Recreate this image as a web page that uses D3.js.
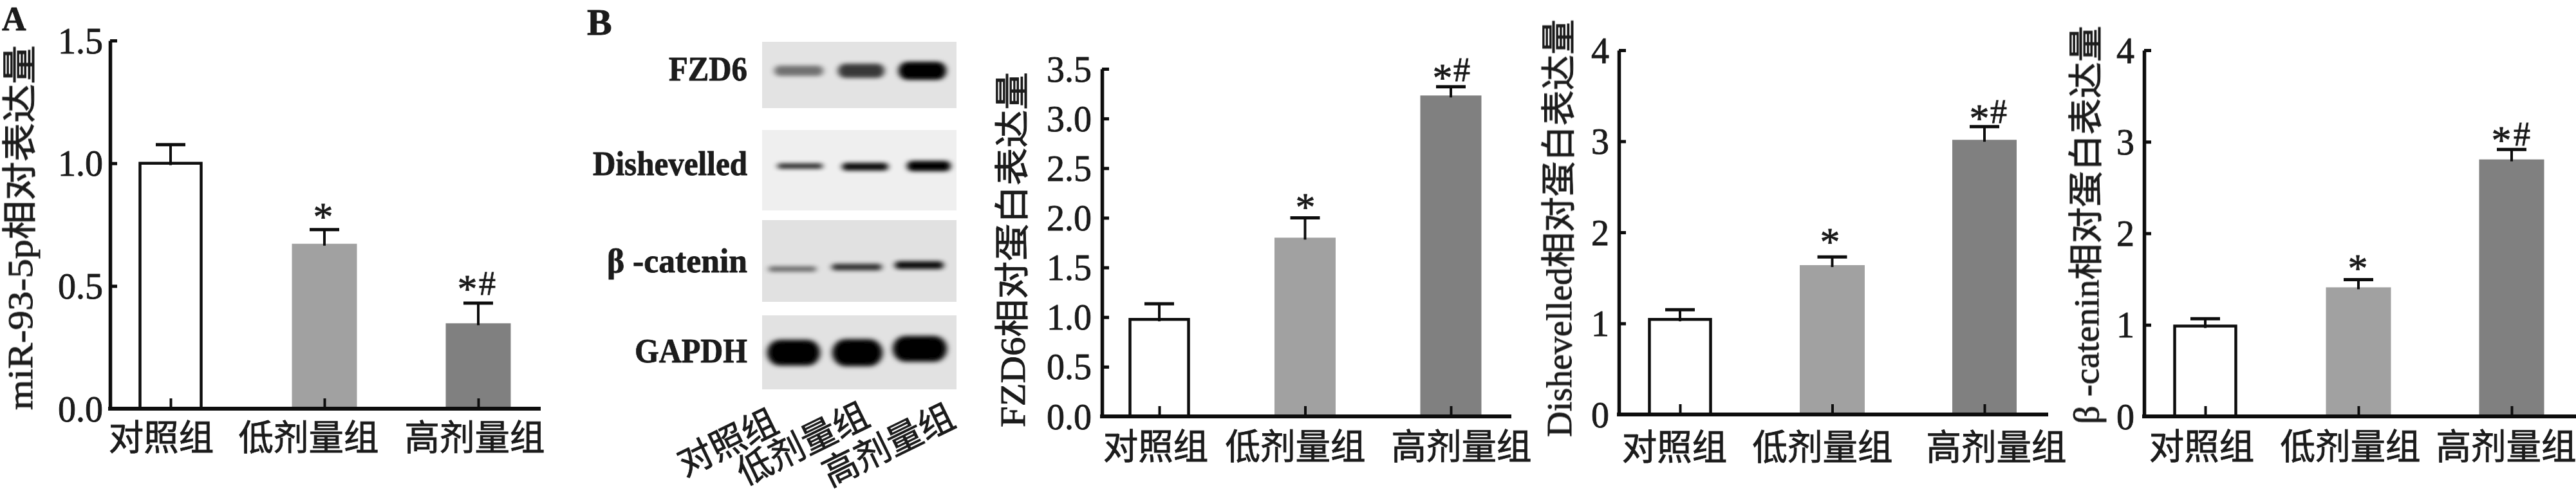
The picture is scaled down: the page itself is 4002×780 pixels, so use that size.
<!DOCTYPE html>
<html><head><meta charset="utf-8">
<style>
html,body{margin:0;padding:0;background:#fff;width:4002px;height:780px;overflow:hidden}
text{font-family:"Liberation Serif","Noto Sans CJK SC",serif;fill:#1a1a1a;stroke:#1a1a1a;stroke-width:0.8px}
</style>
<script src="https://cdn.jsdelivr.net/npm/d3@7/dist/d3.min.js"></script>
</head><body>
<svg id="c" width="4002" height="780"></svg>
<script>
const categories = ["对照组","低剂量组","高剂量组"];
const barColors = ["#ffffff","#a1a1a1","#808080"];

const mirValues = [1.0,0.672,0.348];
const mirUpper  = [1.076,0.73,0.43];
const mirTicks  = [0,0.5,1.0,1.5];

const fzdValues = [0.977,1.8,3.232];
const fzdUpper  = [1.135,2.0,3.32];
const fzdTicks  = [0,0.5,1,1.5,2,2.5,3,3.5];

const dvlValues = [1.044,1.64,3.016];
const dvlUpper  = [1.15,1.73,3.16];
const dvlTicks  = [0,1,2,3,4];

const catValues = [0.987,1.41,2.807];
const catUpper  = [1.067,1.494,2.915];
const catTicks  = [0,1,2,3,4];

const blotLabels = ["FZD6","Dishevelled","β -catenin","GAPDH"];
const blotDark = [[0.5,0.75,1],[0.85,0.95,1],[0.55,0.8,0.95],[1,1,1]];

const panels = [
 {title:"miR-93-5p相对表达量",values:mirValues,upper:mirUpper,ticks:mirTicks,fmt:".1f",
  ax:171,top:63,base:635,end:840,x0:265,x1:743,bw:[95,101,101],lx:[250,479,737],ly:679,
  tr:160,tx:32,t0:70,t1:637,
  mk:[null,[[502,328,"*"]],[[726,440,"*"],[757,440,"#"]]]},
 {title:"FZD6相对蛋白表达量",values:fzdValues,upper:fzdUpper,ticks:fzdTicks,fmt:".1f",
  ax:1712,top:107,base:647,end:2348,x0:1801,x1:2254,bw:[91,95,95],lx:[1795,2012,2270],ly:693,
  tr:1696,tx:1574,t0:112,t1:664,
  mk:[null,[[2028,313,"*"]],[[2241,112,"*"],[2271,108,"#"]]]},
 {title:"Dishevelled相对蛋白表达量",values:dvlValues,upper:dvlUpper,ticks:dvlTicks,fmt:"d",
  ax:2515,top:78,base:644,end:3182,x0:2610,x1:3083,bw:[95,101,100],lx:[2601,2831,3101],ly:694,
  tr:2500,tx:2423,t0:30,t1:679,
  mk:[null,[[2843,367,"*"]],[[3075,175,"*"],[3105,173,"#"]]]},
 {title:"β -catenin相对蛋白表达量",values:catValues,upper:catUpper,ticks:catTicks,fmt:"d",
  ax:3331,top:78,base:647,end:4002,x0:3426,x1:3902,bw:[95,101,101],lx:[3420,3651,3893],ly:693,
  tr:3316,tx:3242,t0:40,t1:659,
  mk:[null,[[3663,408,"*"]],[[3886,209,"*"],[3918,208,"#"]]]}
];

const svg = d3.select("#c");
const defs = svg.append("defs");
defs.append("filter").attr("id","soft").attr("filterUnits","userSpaceOnUse")
  .attr("x",0).attr("y",0).attr("width",4002).attr("height",780)
  .append("feGaussianBlur").attr("stdDeviation","0.7");
defs.append("filter").attr("id","b6").attr("x","-30%").attr("y","-100%").attr("width","160%").attr("height","300%")
  .append("feGaussianBlur").attr("stdDeviation","5 3.5");
defs.append("filter").attr("id","b3").attr("x","-30%").attr("y","-150%").attr("width","160%").attr("height","400%")
  .append("feGaussianBlur").attr("stdDeviation","5 3");
const root = svg.append("g").attr("filter","url(#soft)");

panels.forEach(p=>{
  const g = root.append("g");
  const y = d3.scaleLinear().domain([0,d3.max(p.ticks)]).range([p.base,p.top]);
  const x = d3.scalePoint().domain(categories).range([p.x0,p.x1]);
  g.selectAll("rect.bar").data(categories).join("rect").attr("class","bar")
    .attr("x",(d,i)=>x(d)-p.bw[i]/2).attr("width",(d,i)=>p.bw[i])
    .attr("y",(d,i)=>y(p.values[i])).attr("height",(d,i)=>p.base-y(p.values[i]))
    .attr("fill",(d,i)=>barColors[i])
    .attr("stroke",(d,i)=>i==0?"#111":"none").attr("stroke-width",4.5);
  const eb = g.selectAll("g.eb").data(categories).join("g").attr("class","eb");
  eb.append("line").attr("x1",d=>x(d)).attr("x2",d=>x(d))
    .attr("y1",(d,i)=>y(p.values[i])+3).attr("y2",(d,i)=>y(p.upper[i]))
    .attr("stroke","#111").attr("stroke-width",4);
  eb.append("line").attr("x1",d=>x(d)-23).attr("x2",d=>x(d)+23)
    .attr("y1",(d,i)=>y(p.upper[i])).attr("y2",(d,i)=>y(p.upper[i]))
    .attr("stroke","#111").attr("stroke-width",5);
  const ax = g.append("g").attr("transform",`translate(${p.ax},0)`)
    .call(d3.axisLeft(y).tickValues(p.ticks).tickFormat(d3.format(p.fmt)).tickSizeInner(-11).tickSizeOuter(0));
  ax.select(".domain").attr("stroke","#111").attr("stroke-width",5.5);
  ax.selectAll(".tick line").attr("stroke","#111").attr("stroke-width",5);
  ax.selectAll(".tick text").attr("x",p.tr-p.ax).attr("dy","0.34em")
    .style("font-size","56px").style("font-family",'"Liberation Serif"');
  const bx = g.append("g").attr("transform",`translate(0,${p.base})`)
    .call(d3.axisBottom(x).tickSizeInner(-16).tickSizeOuter(0));
  bx.select(".domain").remove();
  g.append("line").attr("x1",p.ax-3).attr("x2",p.end).attr("y1",p.base).attr("y2",p.base)
    .attr("stroke","#111").attr("stroke-width",6);
  bx.selectAll(".tick line").attr("stroke","#111").attr("stroke-width",4);
  bx.selectAll(".tick text").attr("y",0).attr("dy",0)
    .attr("transform",(d,i)=>`translate(${p.lx[i]-x(d)},${p.ly-p.base+20})`)
    .style("font-size","54.5px").style("font-family",'"Noto Sans CJK SC"');
  g.append("text").attr("transform",`translate(${p.tx+18},${(p.t0+p.t1)/2}) rotate(-90)`)
    .attr("text-anchor","middle").attr("textLength",p.t1-p.t0).attr("lengthAdjust","spacingAndGlyphs")
    .style("font-size","54px").text(p.title);
  p.mk.forEach(m=>{ if(!m) return;
    m.forEach(([mx,my,s])=>g.append("text").attr("x",mx).attr("y",my+(s=="*"?29:18))
      .attr("text-anchor","middle").style("font-size",s=="*"?"62px":"52px")
      .style("font-family",'"Liberation Serif"').text(s));
  });
});

root.append("text").attr("x",3).attr("y",47).style("font-size","52px").style("font-weight","bold").text("A");
root.append("text").attr("x",912).attr("y",54).style("font-size","58px").style("font-weight","bold").text("B");

const blotBoxes=[[65,168,"#e3e3e3"],[202,327,"#efefef"],[342,469,"#e1e1e1"],[490,605,"#e2e2e2"]];
const labelYs=[107,254,405,545], labelW=[122,240,218,175];
const bandCx=[[1241,1338,1433],[1243,1344,1443],[1231,1331,1428],[1233,1332,1429]];
const bandCy=[[110,110,110],[258,259,258],[418,415,412],[548,548,542]];
const bandW=[[76,72,74],[70,72,68],[74,78,76],[82,78,84]];
const bandH=[[16,22,28],[8,12,16],[8,10,12],[40,42,40]];
const blot=root.append("g");
blot.selectAll("rect.box").data(blotBoxes).join("rect").attr("class","box")
 .attr("x",1184).attr("width",302).attr("y",d=>d[0]).attr("height",d=>d[1]-d[0]).attr("fill",d=>d[2]);
blotDark.forEach((row,r)=>{
  blot.selectAll("rect.band"+r).data(row).join("rect").attr("class","band"+r)
   .attr("x",(d,i)=>bandCx[r][i]-bandW[r][i]/2).attr("width",(d,i)=>bandW[r][i])
   .attr("y",(d,i)=>bandCy[r][i]-bandH[r][i]/2).attr("height",(d,i)=>bandH[r][i])
   .attr("rx",(d,i)=>bandH[r][i]/2)
   .attr("fill","#000").attr("opacity",d=>d)
   .attr("filter",r==3?"url(#b6)":"url(#b3)");
});
blot.selectAll("text.lab").data(blotLabels).join("text").attr("class","lab")
 .attr("x",1161).attr("y",(d,i)=>labelYs[i]+18).attr("text-anchor","end")
 .attr("textLength",(d,i)=>labelW[i]).attr("lengthAdjust","spacingAndGlyphs")
 .style("font-size","52px").style("font-weight","bold").text(d=>d);
const rotC=[[1130,687],[1247,689],[1380,691]];
blot.selectAll("text.rot").data(categories).join("text").attr("class","rot")
 .attr("transform",(d,i)=>`translate(${rotC[i][0]},${rotC[i][1]}) rotate(-26)`)
 .attr("text-anchor","middle").attr("dy","0.36em")
 .style("font-size","55px").style("font-family",'"Noto Sans CJK SC"').text(d=>d);
</script>
</body></html>
